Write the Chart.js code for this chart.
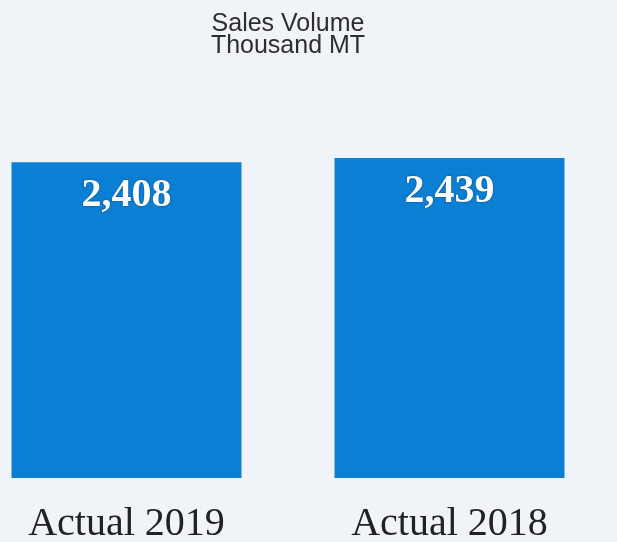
<!DOCTYPE html>
<html lang="en">

<head>
    <meta charset="UTF-8">
    <title>Sales Volume</title>
    <script src="https://cdn.jsdelivr.net/npm/chart.js"></script>
    <style>
        html, body {
            margin: 0;
            padding: 0;
            width: 617px;
            height: 542px;
            overflow: hidden;
            background: #f0f3f7;
        }
        #grafico {
            position: absolute;
            left: -35px;
            top: 0;
        }
    </style>
</head>

<body>
    <!-- el canvas es mas grande que la ventana, se recorta por los bordes -->
    <canvas id="grafico" width="646" height="570"></canvas>

    <script>
        const categorias = ['Actual 2019', 'Actual 2018']
        const volumen = [2408, 2439]
        const titulo = ['Sales Volume', 'Thousand MT']

        // numeros blancos dentro de las barras
        const etiquetas = {
            id: 'etiquetas',
            afterDatasetsDraw(chart) {
                const c = chart.ctx
                const meta = chart.getDatasetMeta(0)
                c.save()
                c.font = 'bold 40px "Liberation Serif", "Times New Roman", serif'
                c.fillStyle = '#ffffff'
                c.textAlign = 'center'
                c.textBaseline = 'middle'
                c.shadowColor = 'rgba(0,0,40,0.5)'
                c.shadowBlur = 2
                meta.data.forEach((bar, i) => {
                    c.fillText(volumen[i].toLocaleString('en-US'), bar.x, bar.y + 34)
                })
                c.restore()
            }
        }

        const ctx = document.getElementById('grafico')
        const graph = new Chart(ctx, {
            type: 'bar',
            data: {
                labels: categorias,
                datasets: [{
                    data: volumen,
                    backgroundColor: '#0b7fd4',
                    borderWidth: 0,
                    categoryPercentage: 1,
                    barPercentage: 0.712
                }]
            },
            options: {
                responsive: false,
                animation: false,
                layout: { padding: 0 },
                plugins: {
                    legend: { display: false },
                    tooltip: { enabled: false },
                    title: {
                        display: true,
                        text: titulo,
                        color: '#2e2e2e',
                        font: { family: '"Liberation Sans", Arial, sans-serif', size: 25, weight: 'normal', lineHeight: 0.88 },
                        padding: { top: 13, bottom: 38 }
                    }
                },
                scales: {
                    x: {
                        grid: { display: false, drawTicks: false },
                        border: { display: false },
                        ticks: {
                            color: '#222222',
                            padding: 28,
                            font: { family: '"Liberation Serif", "Times New Roman", serif', size: 40, lineHeight: 0.9 }
                        }
                    },
                    y: {
                        display: false,
                        min: 0,
                        max: 2920
                    }
                }
            },
            plugins: [etiquetas]
        })
    </script>
</body>

</html>
